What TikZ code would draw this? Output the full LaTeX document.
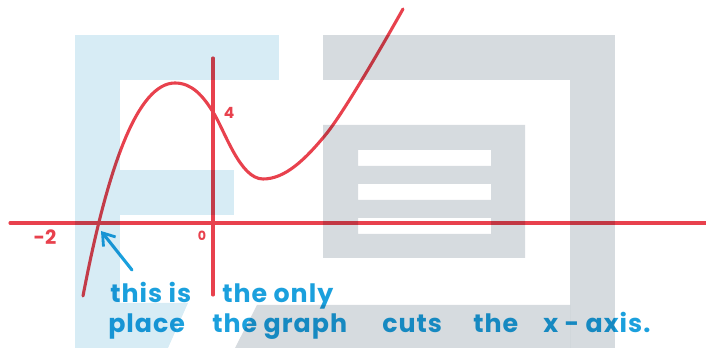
\documentclass[tikz,border=0pt]{standalone}
\usepackage{fontspec}
\setmainfont{Poppins}
\newfontfamily\handfont[LetterSpace=4]{Poppins}
\usepackage{xcolor}
\definecolor{graphred}{HTML}{E8414D}
\definecolor{notesblue}{HTML}{1BA0DD}
\definecolor{markblue}{HTML}{D7ECF5}
\definecolor{markgrey}{HTML}{D6DBDF}
\usepackage{tikz}
\usetikzlibrary{
  arrows.meta,
  positioning,
}

\begin{document}
\begin{tikzpicture}[
  x=0.025cm, y=-0.025cm,
  axisline/.style={
    draw=graphred, line width=2.2pt, line cap=round,
  },
  curveline/.style={
    draw=graphred, line width=2.2pt, line cap=round,
  },
  axislabel/.style={
    text=graphred, font=\fontsize{14}{14}\selectfont\bfseries, inner sep=0pt,
  },
  note/.style={
    text=notesblue, font=\handfont\fontsize{18}{20}\selectfont\bfseries,
    inner sep=0pt, anchor=base west,
  },
  pointer/.style={
    -{Straight Barb[length=8pt,width=11pt,line width=2pt]},
    draw=notesblue, line width=2.2pt, line cap=round,
  },
]
  \useasboundingbox (0,0) rectangle (706,352);

  % Axes
  \coordinate (xleft) at (10,223);
  \coordinate (xright) at (706,223);
  \coordinate (ytop) at (213,58);
  \coordinate (ybottom) at (213,295);
  \draw[axisline] (xleft) -- (xright);
  \draw[axisline] (ytop) -- (ybottom);

  % Axis labels
  \node[axislabel] (minustwo) at (45,237) {-2};
  \node[axislabel, font=\fontsize{9}{9}\selectfont\bfseries] (origin) at (202,236) {0};
  \node[axislabel, font=\fontsize{11}{11}\selectfont\bfseries] (four) at (229,113) {4};

  % Graph
  \coordinate (start) at (83,296);
  \coordinate (peak) at (175,83);
  \coordinate (yint) at (213,112);
  \coordinate (trough) at (263,179);
  \coordinate (rise) at (327,133);
  \coordinate (finish) at (403,9);
  \draw[curveline] (start) .. controls (108,165) and (138,83) .. (peak)
    .. controls (192,83) and (203,96) .. (yint)
    .. controls (225,131) and (240,179) .. (trough)
    .. controls (285,179) and (305,160) .. (rise)
    .. controls (345,110) and (380,50) .. (finish);

  % Notes
  \node[note] (thisis) at (110,303) {this is};
  \node[note] (theonly) at (222,303) {the only};
  \node[note] (place) at (108,333) {place};
  \node[note] (thegraph) at (212,333) {the graph};
  \node[note] (cuts) at (382,333) {cuts};
  \node[note] (the) at (473,333) {the};
  \node[note] (xaxis) at (543,333) {x - axis.};

  \coordinate (tail) at (132,270);
  \coordinate (tip) at (101,231);
  \draw[pointer] (tail) -- (tip);

  % Watermark
  \begin{scope}[blend mode=multiply]
    \fill[markblue] (75,35) rectangle (120,348);
    \fill[markblue] (120,35) rectangle (279,80);
    \fill[markblue] (120,170) rectangle (234,215);
    \fill[markblue] (120,303) -- (188,303) -- (168,348) -- (120,348) -- cycle;
    \fill[markgrey] (323,35) rectangle (615,80);
    \fill[markgrey] (570,80) rectangle (615,348);
    \fill[markgrey] (257,305) -- (570,305) -- (570,348) -- (235,348) -- cycle;
    \fill[markgrey, even odd rule] (323,125) rectangle (525,258)
      (358,150) rectangle (491,166)
      (358,184) rectangle (491,200)
      (358,218) rectangle (491,234);
  \end{scope}
\end{tikzpicture}
\end{document}
